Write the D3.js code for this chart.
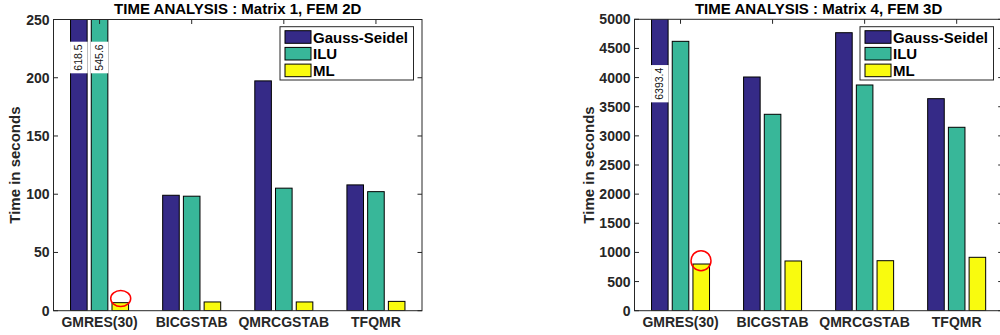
<!DOCTYPE html>
<html>
<head>
<meta charset="utf-8">
<script src="https://cdn.jsdelivr.net/npm/d3@7/dist/d3.min.js"></script>
<style>
  html, body { margin: 0; padding: 0; background: #fff; }
  svg { display: block; font-family: "Liberation Sans", Arial, Helvetica, sans-serif; }
</style>
</head>
<body>
<svg id="chart" width="1000" height="335"></svg>
<script>
// Solver categories and preconditioner series
const categories = ["GMRES(30)", "BICGSTAB", "QMRCGSTAB", "TFQMR"];
const seriesNames = ["Gauss-Seidel", "ILU", "ML"];
const seriesColors = ["#352a87", "#38b799", "#f9fb0e"];

// Matrix 1, FEM 2D timings (seconds)
const fem2dGaussSeidel = [618.5, 99.1, 197.3, 108.0];
const fem2dILU = [545.6, 98.3, 105.2, 102.2];
const fem2dML = [6.9, 7.5, 7.5, 8.0];
const fem2dTicks = [0, 50, 100, 150, 200, 250];

// Matrix 4, FEM 3D timings (seconds)
const fem3dGaussSeidel = [6393.4, 4010, 4770, 3638];
const fem3dILU = [4622, 3370, 3873, 3147];
const fem3dML = [801, 853, 858, 916];
const fem3dTicks = [0, 500, 1000, 1500, 2000, 2500, 3000, 3500, 4000, 4500, 5000];

const svg = d3.select("#chart");
const axisColor = "#262626";

function drawPanel(p) {
  const g = svg.append("g");
  const x = d3.scaleLinear().domain([0.5, 4.5]).range([p.left, p.right]);
  const y = d3.scaleLinear().domain([0, p.ymax]).range([p.bottom, p.top]);
  const series = [p.gs, p.ilu, p.ml];
  const offset = 0.225, bw = 0.18;

  const clipId = "clip-" + p.id;
  svg.append("defs").append("clipPath").attr("id", clipId)
    .append("rect").attr("x", p.left).attr("y", p.top)
    .attr("width", p.right - p.left).attr("height", p.bottom - p.top);

  // bars
  const barG = g.append("g").attr("clip-path", `url(#${clipId})`);
  series.forEach((vals, si) => {
    barG.selectAll(null).data(vals).enter().append("rect")
      .attr("x", (d, i) => x(i + 1 + (si - 1) * offset - bw / 2))
      .attr("width", x(bw) - x(0))
      .attr("y", d => y(Math.min(d, p.ymax * 1.02)))
      .attr("height", d => y(0) - y(Math.min(d, p.ymax * 1.02)))
      .attr("fill", seriesColors[si])
      .attr("stroke", "#000").attr("stroke-width", 1);
  });

  // value tags on bars that run past the top of the axes
  series.forEach((vals, si) => {
    vals.forEach((v, i) => {
      if (v <= p.ymax) return;
      const cx = x(i + 1 + (si - 1) * offset);
      const w = x(bw) - x(0) + 1;
      const h = p.tagH;
      const cy = p.tagY;
      g.append("rect").attr("x", cx - w / 2).attr("y", cy - h / 2)
        .attr("width", w).attr("height", h).attr("fill", "#fff");
      g.append("text")
        .attr("transform", `translate(${cx + 3.5},${cy}) rotate(-90)`)
        .attr("text-anchor", "middle")
        .attr("font-size", 10.5).attr("fill", "#111")
        .text(v.toFixed(1));
    });
  });

  // axes box
  const ax = g.append("g").attr("stroke", axisColor).attr("fill", "none").attr("stroke-width", 1);
  ax.append("rect").attr("x", p.left).attr("y", p.top)
    .attr("width", p.right - p.left).attr("height", p.bottom - p.top);

  const tl = 4.5;
  // y ticks, left and right, pointing inward
  p.ticks.forEach(t => {
    ax.append("line").attr("x1", p.left).attr("x2", p.left + tl).attr("y1", y(t)).attr("y2", y(t));
    ax.append("line").attr("x1", p.right).attr("x2", p.right - tl).attr("y1", y(t)).attr("y2", y(t));
  });
  // x ticks on top edge
  categories.forEach((c, i) => {
    ax.append("line").attr("x1", x(i + 1)).attr("x2", x(i + 1)).attr("y1", p.top).attr("y2", p.top + tl);
  });

  // y tick labels
  g.append("g").selectAll("text").data(p.ticks).enter().append("text")
    .attr("x", p.left - 4).attr("y", d => y(d) + 5)
    .attr("text-anchor", "end").attr("font-size", 14).attr("font-weight", "bold")
    .attr("fill", axisColor).text(d => d);

  // category labels
  g.append("g").selectAll("text").data(categories).enter().append("text")
    .attr("x", (d, i) => x(i + 1)).attr("y", p.bottom + 16.5)
    .attr("text-anchor", "middle").attr("font-size", 14).attr("font-weight", "bold")
    .attr("fill", axisColor).text(d => d);

  // y axis title
  g.append("text")
    .attr("transform", `translate(${p.ylabelX},${(p.top + p.bottom) / 2}) rotate(-90)`)
    .attr("text-anchor", "middle").attr("font-size", 15).attr("font-weight", "bold")
    .attr("fill", axisColor).text("Time in seconds");

  // title
  g.append("text").attr("x", (p.left + p.right) / 2).attr("y", 13.5)
    .attr("text-anchor", "middle").attr("font-size", 15).attr("font-weight", "bold")
    .attr("fill", "#000").text(p.title);

  // legend
  const lg = g.append("g");
  lg.append("rect").attr("x", p.legX).attr("y", 26.7).attr("width", 133.5).attr("height", 53.3)
    .attr("fill", "#fff").attr("stroke", axisColor).attr("stroke-width", 1);
  seriesNames.forEach((n, i) => {
    const cy = 37 + i * 16.7;
    lg.append("rect").attr("x", p.legX + 5).attr("y", cy - 6.3).attr("width", 26).attr("height", 12.6)
      .attr("fill", seriesColors[i]).attr("stroke", "#000").attr("stroke-width", 1);
    lg.append("text").attr("x", p.legX + 33).attr("y", cy + 5.5)
      .attr("font-size", 15).attr("font-weight", "bold").attr("fill", "#000").text(n);
  });

  // highlight circle around the ML bar of GMRES(30)
  g.append("ellipse").attr("cx", p.circle[0]).attr("cy", p.circle[1])
    .attr("rx", p.circle[2]).attr("ry", p.circle[3])
    .attr("fill", "none").attr("stroke", "#ff0000").attr("stroke-width", 1.5);
}

drawPanel({
  id: "fem2d", title: "TIME ANALYSIS : Matrix 1, FEM 2D",
  left: 53.5, right: 422, top: 19.5, bottom: 310.7, ymax: 250,
  gs: fem2dGaussSeidel, ilu: fem2dILU, ml: fem2dML, ticks: fem2dTicks,
  tagY: 57.5, tagH: 31.6, ylabelX: 20, legX: 280,
  circle: [120.7, 298.5, 10, 8]
});

drawPanel({
  id: "fem3d", title: "TIME ANALYSIS : Matrix 4, FEM 3D",
  left: 634.5, right: 1002.7, top: 19.3, bottom: 310.7, ymax: 5000,
  gs: fem3dGaussSeidel, ilu: fem3dILU, ml: fem3dML, ticks: fem3dTicks,
  tagY: 83.7, tagH: 37.3, ylabelX: 594, legX: 860,
  circle: [701, 260.7, 10, 10]
});
</script>
</body>
</html>
